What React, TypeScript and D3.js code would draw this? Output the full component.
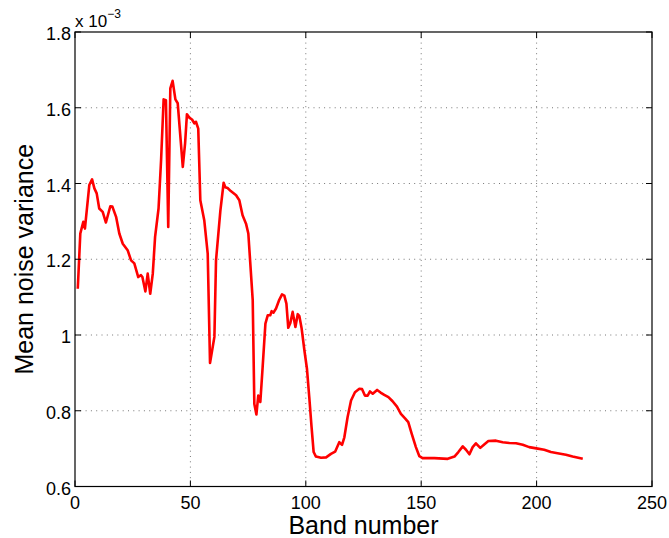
import React, { useEffect, useRef } from "react";
import * as d3 from "d3";

const bands: number[] = [
  1.2, 2.3, 3.6, 4.3, 6.2, 7.4, 8.4, 9.4, 10.5, 12, 13.4, 15.3, 16.2, 17.8, 19.2, 20.7,
  22.8, 24.3, 25.7, 27.4, 28.6, 29.2, 30.5, 31.5, 32.6, 33.7, 34.7, 36.2, 37.3, 38.4,
  39.4, 40.4, 41.3, 42.3, 43.5, 44.5, 46.7, 47.7, 48.5, 49.5, 50.7, 51.7, 52.4, 53.4,
  54.3, 56, 57.5, 58.5, 60.4, 61.1, 63, 64.4, 65.1, 66.1, 67.5, 69.8, 71.2, 72.6, 74.1,
  75.1, 77, 77.7, 78.6, 79.4, 80.3, 81.3, 82.5, 83.5, 84.6, 85.2, 86, 87.1, 88.5, 89.7,
  90.7, 91.6, 92.4, 93.3, 94.3, 95.5, 96.5, 97.2, 98.2, 99.4, 100.5, 101.5, 102.5, 103.4,
  104.4, 106.6, 108.8, 110.9, 112.7, 114.5, 115.7, 116.7, 118.1, 119.6, 121.3, 123.2,
  124.4, 125.6, 126.8, 127.8, 129, 130.9, 132.4, 134, 135.8, 137.6, 139.5, 141.2, 143,
  144.4, 145.9, 147.7, 149.2, 150.6, 155.7, 161.5, 164.4, 166.1, 168, 169.4, 170.9, 172.3,
  173.7, 175.6, 177.3, 179.1, 182.4, 185.3, 188.2, 191.1, 194, 196.8, 200.5, 203.3, 206.2,
  209.1, 212.7, 215.6, 220,
];

// mean noise variance, in units of 1e-3
const variance: number[] = [
  1.122, 1.268, 1.299, 1.281, 1.396, 1.411, 1.387, 1.374, 1.334, 1.325, 1.297, 1.34, 1.339,
  1.312, 1.268, 1.241, 1.224, 1.197, 1.189, 1.153, 1.158, 1.153, 1.115, 1.162, 1.109, 1.162,
  1.259, 1.334, 1.462, 1.622, 1.62, 1.285, 1.651, 1.671, 1.622, 1.612, 1.444, 1.506, 1.583,
  1.574, 1.569, 1.559, 1.563, 1.545, 1.356, 1.303, 1.215, 0.926, 0.995, 1.197, 1.329, 1.402,
  1.39, 1.388, 1.38, 1.369, 1.356, 1.316, 1.294, 1.268, 1.092, 0.818, 0.79, 0.84, 0.823,
  0.915, 1.03, 1.052, 1.052, 1.063, 1.059, 1.07, 1.093, 1.107, 1.104, 1.083, 1.019, 1.032,
  1.061, 1.021, 1.055, 1.05, 1.017, 0.959, 0.911, 0.836, 0.757, 0.691, 0.679, 0.676, 0.677,
  0.686, 0.692, 0.717, 0.71, 0.73, 0.783, 0.827, 0.849, 0.858, 0.857, 0.84, 0.84, 0.851,
  0.845, 0.855, 0.848, 0.842, 0.836, 0.825, 0.811, 0.792, 0.78, 0.77, 0.739, 0.704, 0.68,
  0.675, 0.675, 0.673, 0.679, 0.691, 0.706, 0.697, 0.685, 0.704, 0.714, 0.702, 0.711, 0.72,
  0.721, 0.717, 0.715, 0.714, 0.71, 0.704, 0.7, 0.697, 0.691, 0.688, 0.684, 0.679, 0.673,
];

const xTicks: number[] = [0, 50, 100, 150, 200, 250];
const yTicks: number[] = [0.6, 0.8, 1.0, 1.2, 1.4, 1.6, 1.8];
const yTickLabels: string[] = ["0.6", "0.8", "1", "1.2", "1.4", "1.6", "1.8"];

const W = 669;
const H = 538;
const M = { left: 75, top: 32, right: 652, bottom: 486.5 };
const FONT = "'Liberation Sans', Arial, Helvetica, sans-serif";

export default function App() {
  const ref = useRef<SVGSVGElement | null>(null);

  useEffect(() => {
    const svg = d3.select(ref.current);
    svg.selectAll("*").remove();

    const x = d3.scaleLinear().domain([0, 250]).range([M.left, M.right]);
    const y = d3.scaleLinear().domain([0.6, 1.8]).range([M.bottom, M.top]);

    svg.append("rect").attr("width", W).attr("height", H).attr("fill", "#fff");

    const grid = svg.append("g");
    xTicks.slice(1, -1).forEach((t) => {
      grid.append("line")
        .attr("x1", x(t)).attr("x2", x(t))
        .attr("y1", M.top).attr("y2", M.bottom)
        .attr("stroke", "#777").attr("stroke-width", 1)
        .attr("stroke-dasharray", "1,4.3");
    });
    yTicks.slice(1, -1).forEach((t) => {
      grid.append("line")
        .attr("x1", M.left).attr("x2", M.right)
        .attr("y1", y(t)).attr("y2", y(t))
        .attr("stroke", "#777").attr("stroke-width", 1)
        .attr("stroke-dasharray", "1,4.3");
    });

    const line = d3.line<number>()
      .x((_, i) => x(bands[i]))
      .y((d) => y(d));

    svg.append("path")
      .datum(variance)
      .attr("d", line)
      .attr("fill", "none")
      .attr("stroke", "#ff0000")
      .attr("stroke-width", 2.6)
      .attr("stroke-linejoin", "round");

    // box
    svg.append("rect")
      .attr("x", M.left).attr("y", M.top)
      .attr("width", M.right - M.left).attr("height", M.bottom - M.top)
      .attr("fill", "none").attr("stroke", "#000").attr("stroke-width", 1.2);

    const tl = 6;
    const ticks = svg.append("g").attr("stroke", "#000").attr("stroke-width", 1);
    xTicks.forEach((t) => {
      ticks.append("line").attr("x1", x(t)).attr("x2", x(t)).attr("y1", M.bottom).attr("y2", M.bottom - tl);
      ticks.append("line").attr("x1", x(t)).attr("x2", x(t)).attr("y1", M.top).attr("y2", M.top + tl);
    });
    yTicks.forEach((t) => {
      ticks.append("line").attr("x1", M.left).attr("x2", M.left + tl).attr("y1", y(t)).attr("y2", y(t));
      ticks.append("line").attr("x1", M.right).attr("x2", M.right - tl).attr("y1", y(t)).attr("y2", y(t));
    });

    const labels = svg.append("g").attr("font-family", FONT).attr("fill", "#000");
    xTicks.forEach((t) => {
      labels.append("text")
        .attr("x", x(t)).attr("y", 508.5)
        .attr("text-anchor", "middle")
        .attr("font-size", 18)
        .text(String(t));
    });
    yTicks.forEach((t, i) => {
      labels.append("text")
        .attr("x", 71).attr("y", y(t) + 8)
        .attr("text-anchor", "end")
        .attr("font-size", 18)
        .text(yTickLabels[i]);
    });

    const ex = labels.append("text").attr("x", M.left).attr("y", 27).attr("font-size", 17);
    ex.append("tspan").text("x 10");
    ex.append("tspan").attr("font-size", 12).attr("dy", -9).text("\u22123");

    labels.append("text")
      .attr("x", (M.left + M.right) / 2).attr("y", 534)
      .attr("text-anchor", "middle")
      .attr("font-size", 25)
      .text("Band number");

    labels.append("text")
      .attr("transform", `translate(33, ${(M.top + M.bottom) / 2}) rotate(-90)`)
      .attr("text-anchor", "middle")
      .attr("font-size", 25)
      .text("Mean noise variance");
  }, []);

  return (
    <svg
      ref={ref}
      width={W}
      height={H}
      style={{ position: "absolute", left: 0, top: 0, display: "block" }}
    />
  );
}
